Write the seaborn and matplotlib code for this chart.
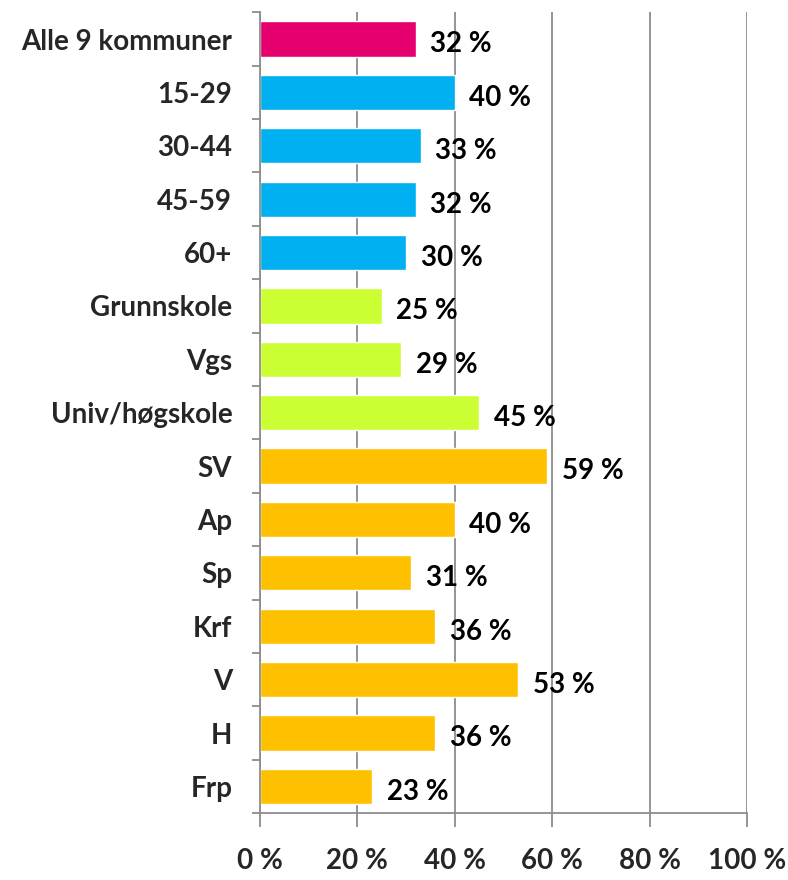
import matplotlib
matplotlib.use("Agg")
import matplotlib.pyplot as plt
import seaborn as sns
import pandas as pd
from matplotlib.ticker import FixedLocator

categories = ["Alle 9 kommuner", "15-29", "30-44", "45-59", "60+",
              "Grunnskole", "Vgs", "Univ/høgskole",
              "SV", "Ap", "Sp", "Krf", "V", "H", "Frp"]
values = [32, 40, 33, 32, 30, 25, 29, 45, 59, 40, 31, 36, 53, 36, 23]
groups = ["total"] + ["alder"] * 4 + ["utdanning"] * 3 + ["parti"] * 7
group_colors = {"total": "#E5006D", "alder": "#00B0F0",
                "utdanning": "#CCFF33", "parti": "#FFC000"}
xticks = [0, 20, 40, 60, 80, 100]

df = pd.DataFrame({"kategori": categories, "andel": values, "gruppe": groups})

sns.set_style("white")
plt.rcParams["font.family"] = ["Lato", "DejaVu Sans"]

fig = plt.figure(figsize=(7.88, 8.8), dpi=100)
ax = fig.add_axes([0.33, 0.076, 0.618, 0.910])

sns.barplot(data=df, y="kategori", x="andel", hue="gruppe",
            palette=group_colors, dodge=False, width=0.66,
            legend=False, ax=ax, saturation=1)

# verdietiketter til høyre for søylene
for i, v in enumerate(values):
    ax.text(v + 3, i + 0.1, f"{v} %", va="center", ha="left",
            fontsize=20, fontweight="bold", color="black")

ax.set_xlim(0, 100)
ax.set_ylim(len(categories) - 0.5, -0.5)
ax.set_xticks(xticks)
ax.set_xticklabels([f"{t} %" for t in xticks])
ax.xaxis.grid(True, color="#8c8c8c", linewidth=1.3)
ax.set_axisbelow(True)
ax.set_xlabel("")
ax.set_ylabel("")

ax.yaxis.set_minor_locator(FixedLocator([i - 0.5 for i in range(len(categories) + 1)]))
ax.tick_params(axis="y", which="major", length=0, pad=20, labelsize=20)
ax.tick_params(axis="y", which="minor", length=6, width=1.3, color="#8c8c8c", left=True)
ax.tick_params(axis="x", which="major", length=10, width=1.3, color="#8c8c8c",
               pad=15, labelsize=20, bottom=True)
for lab in ax.get_yticklabels() + ax.get_xticklabels():
    lab.set_fontweight("bold")

sns.despine(ax=ax, top=True, right=True)
for side in ["left", "bottom"]:
    ax.spines[side].set_color("#8c8c8c")
    ax.spines[side].set_linewidth(1.3)

fig.savefig("out.png", dpi=100, facecolor="white")
